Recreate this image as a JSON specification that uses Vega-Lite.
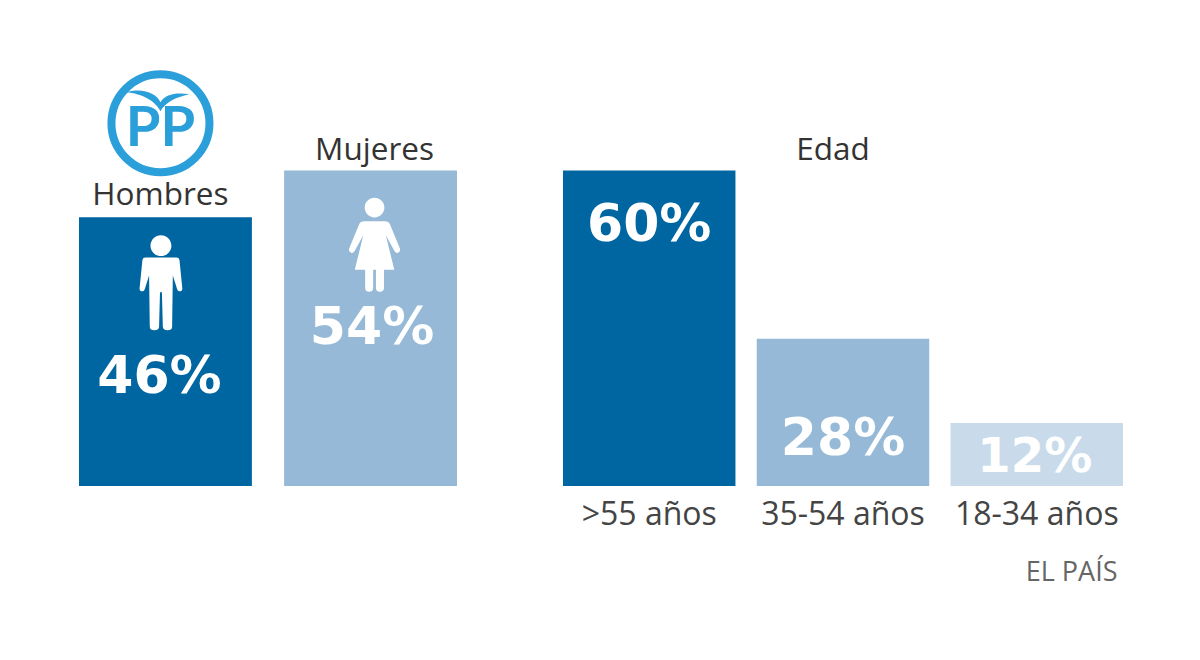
{
  "$schema": "https://vega.github.io/schema/vega-lite/v6.json",
  "background": "white",
  "padding": {"left": 79, "top": 0, "right": 70, "bottom": 60},
  "config": {"view": {"stroke": null}},
  "datasets": {
    "sexo": [
      {"grupo": "Hombres", "valor": 46, "etiqueta": "46%"},
      {"grupo": "Mujeres", "valor": 54, "etiqueta": "54%"}
    ],
    "edad": [
      {"grupo": ">55 años", "valor": 60, "etiqueta": "60%"},
      {"grupo": "35-54 años", "valor": 28, "etiqueta": "28%"},
      {"grupo": "18-34 años", "valor": 12, "etiqueta": "12%"}
    ]
  },
  "spacing": 106,
  "resolve": {"scale": {"color": "independent"}},
  "hconcat": [
    {
      "width": 378,
      "height": 486,
      "data": {"name": "sexo"},
      "encoding": {
        "x": {"field": "grupo", "type": "nominal", "sort": ["Hombres", "Mujeres"], "axis": null,
          "scale": {"paddingInner": 0.157, "paddingOuter": 0}},
        "y": {"field": "valor", "type": "quantitative", "axis": null, "scale": {"domain": [0, 83.2], "nice": false}}
      },
      "layer": [
        {
          "mark": {"type": "bar"},
          "encoding": {
            "color": {"field": "grupo", "type": "nominal", "legend": null,
              "scale": {"domain": ["Hombres", "Mujeres"], "range": ["#0066a1", "#95b9d6"]}}
          }
        },
        {
          "transform": [{"filter": "datum.grupo === 'Hombres'"}],
          "layer": [
            {
              "mark": {"type": "text", "font": "Open Sans", "fontSize": 31.5, "color": "#333333", "dx": -5, "dy": -21, "baseline": "middle"},
              "encoding": {"text": {"field": "grupo"}}
            },
            {
              "mark": {"type": "text", "font": "DejaVu Sans", "fontWeight": "bold", "fontSize": 52, "color": "white", "dx": -6, "dy": 160, "baseline": "middle"},
              "encoding": {"text": {"field": "etiqueta"}}
            },
            {
              "mark": {"type": "point", "filled": true, "opacity": 1, "color": "white", "size": 9025, "xOffset": -4.5,
                "shape": "M 0 -1 A .22 .22 0 1 1 0 -.56 A .22 .22 0 1 1 0 -1 Z M -.33 -.53 L .33 -.53 Q .38 -.53 .39 -.48 L .45 .12 Q .45 .18 .39 .18 Q .35 .18 .34 .13 L .25 -.15 L .235 .93 Q .23 1 .14 1 Q .05 1 .04 .93 L .02 .2 L -.02 .2 L -.04 .93 Q -.05 1 -.14 1 Q -.23 1 -.235 .93 L -.25 -.15 L -.34 .13 Q -.35 .18 -.39 .18 Q -.45 .18 -.45 .12 L -.39 -.48 Q -.38 -.53 -.33 -.53 Z"},
              "encoding": {"y": {"datum": 34.8, "type": "quantitative", "axis": null}}
            },
            {
              "mark": {"type": "point", "filled": false, "opacity": 1, "color": "#2a9fd9", "strokeWidth": 8, "size": 9604, "shape": "circle", "xOffset": -5},
              "encoding": {"y": {"datum": 62.1, "type": "quantitative", "axis": null}}
            },
            {
              "mark": {"type": "point", "filled": true, "opacity": 1, "color": "#2a9fd9", "size": 10000, "xOffset": -5,
                "shape": "M -.7 -.62 C -.35 -.72 -.08 -.6 0 -.42 C .1 -.58 .3 -.62 .58 -.58 C .3 -.52 .1 -.42 0 -.24 C -.08 -.42 -.35 -.6 -.7 -.62 Z"},
              "encoding": {"y": {"datum": 62.1, "type": "quantitative", "axis": null}}
            },
            {
              "mark": {"type": "text", "font": "Lato", "fontWeight": "bold", "fontSize": 56, "color": "#2a9fd9", "dx": -5, "dy": 6, "baseline": "middle", "text": "PP"},
              "encoding": {"y": {"datum": 62.1, "type": "quantitative", "axis": null}}
            }
          ]
        },
        {
          "transform": [{"filter": "datum.grupo === 'Mujeres'"}],
          "layer": [
            {
              "mark": {"type": "text", "font": "Open Sans", "fontSize": 31.5, "color": "#333333", "dx": 4, "dy": -20, "baseline": "middle"},
              "encoding": {"text": {"field": "grupo"}}
            },
            {
              "mark": {"type": "text", "font": "DejaVu Sans", "fontWeight": "bold", "fontSize": 52, "color": "white", "dx": 1.5, "dy": 157, "baseline": "middle"},
              "encoding": {"text": {"field": "etiqueta"}}
            },
            {
              "mark": {"type": "point", "filled": true, "opacity": 1, "color": "white", "size": 8836, "xOffset": 4,
                "shape": "M 0 -1 A .21 .21 0 1 1 0 -.58 A .21 .21 0 1 1 0 -1 Z M -.22 -.5 L .22 -.5 Q .3 -.5 .33 -.43 L .54 .08 Q .56 .14 .5 .17 Q .45 .19 .42 .13 L .24 -.2 L .42 .53 L .2 .53 L .2 .93 Q .19 1 .11 1 Q .04 1 .03 .93 L .03 .53 L -.03 .53 L -.03 .93 Q -.04 1 -.11 1 Q -.19 1 -.2 .93 L -.2 .53 L -.42 .53 L -.24 -.2 L -.42 .13 Q -.45 .19 -.5 .17 Q -.56 .14 -.54 .08 L -.33 -.43 Q -.3 -.5 -.22 -.5 Z"},
              "encoding": {"y": {"datum": 41.3, "type": "quantitative", "axis": null}}
            }
          ]
        }
      ]
    },
    {
      "width": 560,
      "height": 486,
      "data": {"name": "edad"},
      "encoding": {
        "x": {"field": "grupo", "type": "nominal", "sort": [">55 años", "35-54 años", "18-34 años"],
          "scale": {"paddingInner": 0.11, "paddingOuter": 0},
          "axis": {"domain": false, "ticks": false, "labelAngle": 0, "labelFont": "Open Sans", "labelFontSize": 32, "labelColor": "#444444", "labelPadding": 13,
            "title": "EL PAÍS", "titleFont": "Open Sans", "titleFontSize": 27, "titleFontWeight": "normal", "titleColor": "#666666",
            "titleAlign": "right", "titleBaseline": "middle", "titleX": 554, "titleY": 86}},
        "y": {"field": "valor", "type": "quantitative", "axis": null, "scale": {"domain": [0, 92.4], "nice": false}}
      },
      "layer": [
        {
          "mark": {"type": "bar"},
          "encoding": {
            "color": {"field": "grupo", "type": "nominal", "legend": null,
              "scale": {"domain": [">55 años", "35-54 años", "18-34 años"], "range": ["#0066a1", "#95b9d6", "#c9dbea"]}}
          }
        },
        {
          "transform": [{"filter": "datum.valor === 60"}],
          "mark": {"type": "text", "font": "DejaVu Sans", "fontWeight": "bold", "fontSize": 52, "color": "white", "dy": 55, "baseline": "middle"},
          "encoding": {"text": {"field": "etiqueta"}}
        },
        {
          "transform": [{"filter": "datum.valor === 28"}],
          "mark": {"type": "text", "font": "DejaVu Sans", "fontWeight": "bold", "fontSize": 52, "color": "white", "dy": 100, "baseline": "middle"},
          "encoding": {"text": {"field": "etiqueta"}}
        },
        {
          "transform": [{"filter": "datum.valor === 12"}],
          "mark": {"type": "text", "font": "DejaVu Sans", "fontWeight": "bold", "fontSize": 48, "color": "white", "dx": -2, "dy": 35, "baseline": "middle"},
          "encoding": {"text": {"field": "etiqueta"}}
        },
        {
          "transform": [{"filter": "datum.valor === 60"}],
          "mark": {"type": "text", "font": "Open Sans", "fontSize": 31.5, "color": "#333333", "dx": -10, "baseline": "middle", "text": "Edad", "dy": -19},
          "encoding": {"x": {"datum": "35-54 años"}}
        }
      ]
    }
  ]
}
